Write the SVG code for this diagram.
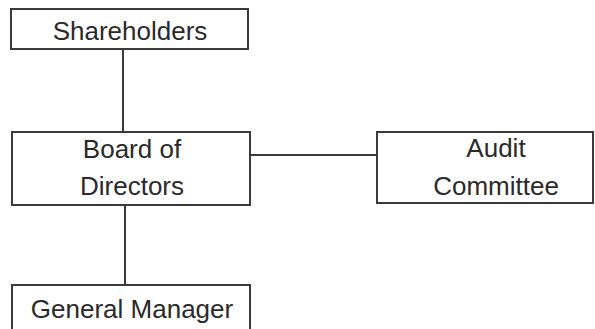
<svg xmlns="http://www.w3.org/2000/svg" width="595" height="329" viewBox="0 0 595 329">
<style>
.box{fill:#fff;stroke:#3a3a3a;stroke-width:2}
.ln{stroke:#3a3a3a;stroke-width:2;fill:none}
text{font-family:"Liberation Sans",Arial,sans-serif;font-size:26px;fill:#2a2a2a;text-anchor:middle}
</style>
<rect width="595" height="329" fill="#fff"/>
<g id="connectors">
<line class="ln" x1="123" y1="49" x2="123" y2="132"/>
<line class="ln" x1="125" y1="205" x2="125" y2="285"/>
<line class="ln" x1="250" y1="155" x2="377" y2="155"/>
</g>
<g id="shareholders">
<rect class="box" x="11" y="9" width="237" height="40"/>
<text x="130" y="40">Shareholders</text>
</g>
<g id="board">
<rect class="box" x="12" y="132" width="238" height="73"/>
<text x="132" y="158">Board of</text>
<text x="132" y="195">Directors</text>
</g>
<g id="audit">
<rect class="box" x="377" y="132" width="216" height="71"/>
<text x="496" y="157">Audit</text>
<text x="496" y="195">Committee</text>
</g>
<g id="gm">
<rect class="box" x="12" y="285" width="238" height="50"/>
<text x="132" y="318">General Manager</text>
</g>
</svg>
